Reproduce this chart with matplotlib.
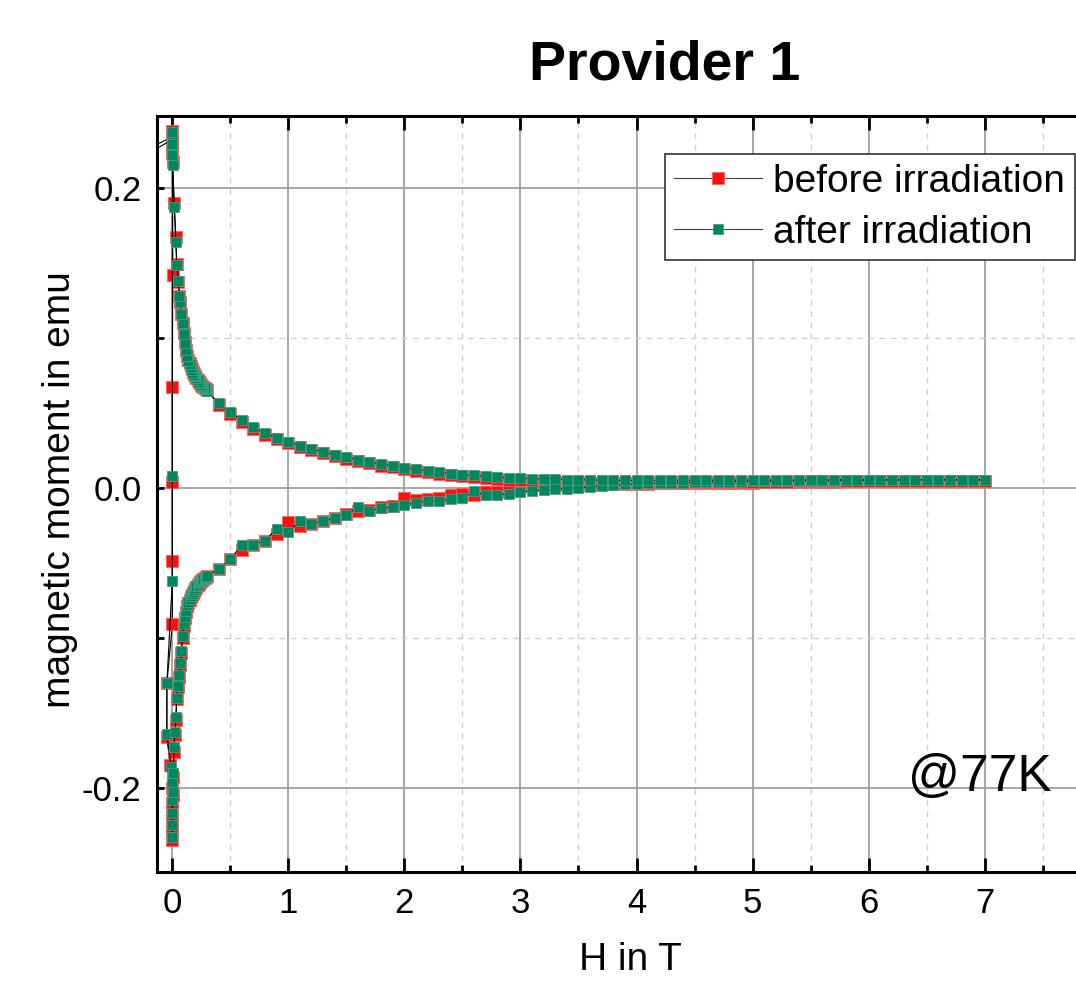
import matplotlib
matplotlib.use("Agg")
import matplotlib.pyplot as plt
from matplotlib.ticker import MultipleLocator

plt.rcParams['font.family'] = ['Liberation Sans', 'DejaVu Sans']

# field steps of the coarse part of the loop (T)
H_loop = [0.4, 0.5, 0.6, 0.7, 0.8, 0.9, 1.0, 1.1, 1.2, 1.3, 1.4, 1.5, 1.6, 1.7, 1.8, 1.9,
          2.0, 2.1, 2.2, 2.3, 2.4, 2.5, 2.6, 2.7, 2.8, 2.9, 3.0, 3.1, 3.2, 3.3, 3.4, 3.5,
          3.6, 3.7, 3.8, 3.9, 4.0, 4.1, 4.2, 4.3, 4.4, 4.5, 4.6, 4.7, 4.8, 4.9, 5.0, 5.1,
          5.2, 5.3, 5.4, 5.5, 5.6, 5.7, 5.8, 5.9, 6.0, 6.1, 6.2, 6.3, 6.4, 6.5, 6.6, 6.7,
          6.8, 6.9, 7.0]
# dense low-field part (T)
H_dense = [0.07, 0.08, 0.09, 0.10, 0.11, 0.12, 0.13, 0.14, 0.15, 0.16, 0.17, 0.18,
           0.19, 0.20, 0.21, 0.22, 0.23, 0.24, 0.25, 0.26, 0.27, 0.28, 0.29, 0.30]

# ---- before irradiation ----
before_start_H = [-0.5, 0.003, 0.003, 0.006, 0.002, 0.002, 0.003, 0.003, -0.045, -0.045, -0.017,
                  0.001, 0.002, 0.002, 0.002, 0.002, 0.006, 0.011, 0.017, 0.025, 0.032, 0.04,
                  0.05, 0.06]
before_start_M = [0.214, 0.234, 0.228, 0.142, 0.067, 0.004, -0.049, -0.091, -0.130, -0.166, -0.185,
                  -0.200, -0.210, -0.219, -0.227, -0.235, -0.205, -0.193, -0.176, -0.165, -0.155,
                  -0.141, -0.133, -0.126]
before_low_dense = [-0.118, -0.110, -0.100, -0.092, -0.087, -0.083, -0.079, -0.077, -0.075, -0.073,
                    -0.0712, -0.0698, -0.0685, -0.0672, -0.066, -0.065, -0.064, -0.063, -0.0622,
                    -0.0615, -0.0608, -0.0602, -0.0596, -0.059]
before_low = [-0.0541, -0.0477, -0.0415, -0.0378, -0.0353, -0.0305, -0.0227, -0.0254, -0.0243,
              -0.0221, -0.0201, -0.0178, -0.0155, -0.0145, -0.0128, -0.0122, -0.0068, -0.0084,
              -0.0077, -0.0066, -0.0050, -0.0044, -0.0050, -0.0029, -0.0029, -0.0018, 0.0015,
              0.0020, 0.0019, 0.0018, 0.0018, 0.0020, 0.0021, 0.0022, 0.0024, 0.0025, 0.0027,
              0.0028, 0.0029, 0.0030, 0.0030, 0.0031, 0.0032, 0.0033, 0.0034, 0.0035, 0.0035,
              0.0036, 0.0037, 0.0038, 0.0039, 0.0040, 0.0040, 0.0041, 0.0042, 0.0043, 0.0043,
              0.0044, 0.0045, 0.0045, 0.0046, 0.0046, 0.0047, 0.0047, 0.0048, 0.0048, 0.0048]
before_up = [0.0553, 0.0490, 0.0440, 0.0393, 0.0352, 0.0323, 0.0296, 0.0271, 0.0249, 0.0229,
             0.0211, 0.0194, 0.0176, 0.0162, 0.0148, 0.0136, 0.0124, 0.0113, 0.0102, 0.0093,
             0.0085, 0.0077, 0.0071, 0.0064, 0.0059, 0.0054, 0.0050, 0.0046, 0.0043, 0.0040,
             0.0038, 0.0036, 0.0035, 0.0034, 0.0034, 0.0034, 0.0035, 0.0035, 0.0036, 0.0036,
             0.0037, 0.0037, 0.0038, 0.0038, 0.0039, 0.0039, 0.0040, 0.0040, 0.0041, 0.0041,
             0.0042, 0.0042, 0.0043, 0.0043, 0.0044, 0.0044, 0.0045, 0.0045, 0.0046, 0.0046,
             0.0047, 0.0047, 0.0047, 0.0048, 0.0048, 0.0048, 0.0048]
before_up_dense = [0.124, 0.116, 0.110, 0.103, 0.097, 0.092, 0.088, 0.085, 0.083, 0.081, 0.079,
                   0.077, 0.0755, 0.0745, 0.0732, 0.0720, 0.0708, 0.0698, 0.0688, 0.0679,
                   0.0671, 0.0664, 0.0657, 0.0650]
before_end_H = [0.063, 0.055, 0.04, 0.032, 0.017, 0.004, 0.003, 0.003, 0.003]
before_end_M = [0.128, 0.137, 0.149, 0.167, 0.190, 0.217, 0.223, 0.230, 0.238]

# ---- after irradiation ----
after_start_H = [-0.5, 0.003, 0.003, 0.002, 0.002, -0.045, -0.045, -0.009, 0.001, 0.002, 0.002,
                 0.002, 0.002, 0.006, 0.011, 0.017, 0.025, 0.032, 0.04, 0.05, 0.06]
after_start_M = [0.210, 0.232, 0.226, 0.008, -0.062, -0.130, -0.164, -0.186, -0.197, -0.208,
                 -0.217, -0.225, -0.233, -0.203, -0.190, -0.173, -0.163, -0.153, -0.140, -0.132,
                 -0.125]
after_low_dense = [-0.117, -0.109, -0.099, -0.091, -0.086, -0.082, -0.078, -0.076, -0.074, -0.072,
                   -0.0705, -0.0692, -0.068, -0.0668, -0.0656, -0.0646, -0.0636, -0.0627, -0.0619,
                   -0.0612, -0.0605, -0.0599, -0.0593, -0.0587]
after_low = [-0.0541, -0.0477, -0.0382, -0.0378, -0.0353, -0.0272, -0.0294, -0.0223, -0.0243,
             -0.0221, -0.0201, -0.0182, -0.0126, -0.0155, -0.0135, -0.0128, -0.0117, -0.0099,
             -0.0090, -0.0088, -0.0077, -0.0068, -0.0024, -0.0050, -0.0046, -0.0040, -0.0029,
             -0.0022, -0.0016, -0.0010, -0.0006, 0.0000, 0.0008, 0.0012, 0.0018, 0.0022, 0.0026,
             0.0029, 0.0031, 0.0033, 0.0034, 0.0036, 0.0037, 0.0038, 0.0040, 0.0041, 0.0042,
             0.0043, 0.0044, 0.0045, 0.0046, 0.0047, 0.0047, 0.0048, 0.0049, 0.0049, 0.0050,
             0.0050, 0.0051, 0.0051, 0.0052, 0.0052, 0.0052, 0.0053, 0.0053, 0.0053, 0.0053]
after_up = [0.0563, 0.0502, 0.0451, 0.0404, 0.0363, 0.0334, 0.0305, 0.0281, 0.0259, 0.0239,
            0.0221, 0.0204, 0.0186, 0.0172, 0.0159, 0.0146, 0.0135, 0.0124, 0.0113, 0.0104,
            0.0095, 0.0086, 0.0082, 0.0076, 0.0071, 0.0067, 0.0064, 0.0061, 0.0059, 0.0057,
            0.0055, 0.0053, 0.0052, 0.0051, 0.0050, 0.0049, 0.0049, 0.0049, 0.0049, 0.0050,
            0.0050, 0.0050, 0.0050, 0.0051, 0.0051, 0.0051, 0.0052, 0.0052, 0.0052, 0.0052,
            0.0053, 0.0053, 0.0053, 0.0053, 0.0054, 0.0054, 0.0054, 0.0054, 0.0054, 0.0054,
            0.0054, 0.0054, 0.0054, 0.0054, 0.0054, 0.0053, 0.0053]
after_up_dense = [0.1235, 0.1155, 0.1095, 0.1025, 0.0965, 0.0915, 0.0875, 0.0845, 0.0825, 0.0805,
                  0.0786, 0.0768, 0.0752, 0.0742, 0.0729, 0.0717, 0.0706, 0.0696, 0.0686, 0.0677,
                  0.0669, 0.0662, 0.0655, 0.0648]
after_end_H = [0.063, 0.055, 0.04, 0.032, 0.02, 0.004, 0.003, 0.003, 0.003]
after_end_M = [0.128, 0.138, 0.1485, 0.164, 0.187, 0.215, 0.222, 0.229, 0.237]

x_ticks = [0, 1, 2, 3, 4, 5, 6, 7]
y_ticks = [-0.2, 0.0, 0.2]
y_ticklabels = ['-0.2', '0.0', '0.2']


def loop_path(start_H, start_M, low_dense, low, up, up_dense, end_H, end_M):
    # measurement order: start -> increasing field -> 7 T -> decreasing field -> end
    H = start_H + H_dense + H_loop + H_loop[::-1] + H_dense[::-1] + end_H
    M = start_M + low_dense + low + up[::-1] + up_dense[::-1] + end_M
    return H, M


hb, mb = loop_path(before_start_H, before_start_M, before_low_dense, before_low,
                   before_up, before_up_dense, before_end_H, before_end_M)
ha, ma = loop_path(after_start_H, after_start_M, after_low_dense, after_low,
                   after_up, after_up_dense, after_end_H, after_end_M)

fig = plt.figure(figsize=(10.76, 9.88), dpi=100)
ax = fig.add_axes([157 / 1076, 116 / 988, 944 / 1076, 756 / 988])

ax.plot(hb, mb, '-', color='black', lw=0.8, marker='s', ms=8.2, mfc='#ff1010',
        mec='#ff6060', mew=0.6, label='before irradiation', zorder=3)
ax.plot(ha, ma, '-', color='black', lw=0.8, marker='s', ms=6.9, mfc='#00875f',
        mec='#40a080', mew=0.6, label='after irradiation', zorder=4)

ax.set_xlim(-0.13, 8.0)
ax.set_ylim(-0.256, 0.2477)

ax.set_xticks(x_ticks)
ax.set_xticklabels([str(t) for t in x_ticks])
ax.set_yticks(y_ticks)
ax.set_yticklabels(y_ticklabels)
ax.xaxis.set_minor_locator(MultipleLocator(0.5))
ax.yaxis.set_minor_locator(MultipleLocator(0.1))

ax.grid(which='major', color='#a0a0a0', lw=1.3, ls='-', zorder=0)
ax.grid(which='minor', color='#d0d0d0', lw=1.0, ls=(0, (4, 4)), zorder=0)
# major grid line at 8 T sits just past the figure edge
ax.axvline(8, color='#a0a0a0', lw=1.3, zorder=0)
ax.set_axisbelow(True)

ax.tick_params(axis='both', which='both', direction='in', labelsize=25, pad=11,
               top=True, right=False, width=2.0)
ax.tick_params(axis='x', which='major', length=10)
ax.tick_params(axis='x', which='minor', length=5)
ax.tick_params(axis='y', which='both', length=5)
for s in ax.spines.values():
    s.set_linewidth(2.2)

leg = ax.legend(loc='upper right', bbox_to_anchor=(1075 / 1076, 1 - 154 / 988),
                bbox_transform=fig.transFigure, fontsize=28, frameon=True, fancybox=False,
                edgecolor='#333333', framealpha=1, numpoints=1, handlelength=2.25,
                handletextpad=0.3, borderpad=0.25, labelspacing=0.38, borderaxespad=0)
leg.get_frame().set_linewidth(1.2)
for line in leg.get_lines():
    line.set_color('#444444')

fig.text(665 / 1076, 1 - 65 / 988, 'Provider 1', fontsize=40, fontweight='bold',
         ha='center', va='center')
fig.text(60 / 1076, 1 - 490 / 988, 'magnetic moment in emu', fontsize=28, rotation=90,
         ha='center', va='center')
fig.text(630 / 1076, 1 - 960 / 988, 'H in T', fontsize=28, ha='center', va='center')
fig.text(980 / 1076, 1 - 777 / 988, '@77K', fontsize=37, ha='center', va='center')

fig.savefig('out.png', dpi=100)
